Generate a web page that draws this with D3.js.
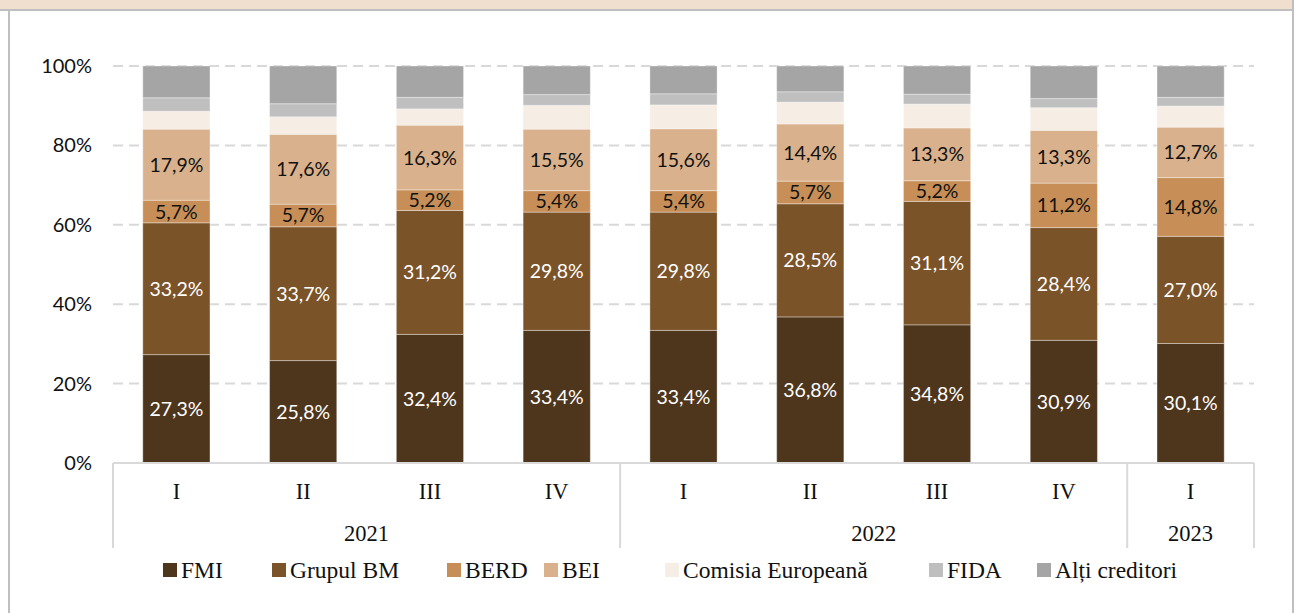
<!DOCTYPE html>
<html>
<head>
<meta charset="utf-8">
<script src="https://cdn.jsdelivr.net/npm/d3@7"></script>
<style>
  body { margin: 0; background: #fff; }
  .tick-label { font-family: Lato, "Open Sans", sans-serif; font-size: 20px; fill: #111; }
  .cat-label { font-family: "Liberation Serif", serif; font-size: 22.5px; fill: #111; }
  .legend-label { font-family: "Liberation Serif", serif; font-size: 23.5px; fill: #111; }
  .bar-label { font-family: Lato, "Open Sans", sans-serif; font-size: 19.5px; }
</style>
</head>
<body>
<div id="chart"></div>
<script>
// quarters and years on the x axis
var quarters = ["I", "II", "III", "IV", "I", "II", "III", "IV", "I"];
var years = ["2021", "2021", "2021", "2021", "2022", "2022", "2022", "2022", "2023"];
var yearGroups = ["2021", "2022", "2023"];

var seriesNames = ["FMI", "Grupul BM", "BERD", "BEI", "Comisia Europeană", "FIDA", "Alți creditori"];

// shares in % (last three)
var fmi      = [27.3, 25.8, 32.4, 33.4, 33.4, 36.8, 34.8, 30.9, 30.1];
var grupulBM = [33.2, 33.7, 31.2, 29.8, 29.8, 28.5, 31.1, 28.4, 27.0];
var berd     = [5.7, 5.7, 5.2, 5.4, 5.4, 5.7, 5.2, 11.2, 14.8];
var bei      = [17.9, 17.6, 16.3, 15.5, 15.6, 14.4, 13.3, 13.3, 12.7];
var comisia  = [4.5, 4.4, 4.1, 6.0, 6.0, 5.5, 6.0, 5.7, 5.3];
var fida     = [3.4, 3.3, 2.9, 2.7, 2.8, 2.6, 2.5, 2.3, 2.2];
var altii    = [8.0, 9.5, 7.9, 7.2, 7.0, 6.5, 7.1, 8.2, 7.9];

var yTicks = [0, 20, 40, 60, 80, 100];

var colors = ["#4e361d", "#7b5329", "#c78f57", "#d9b18c", "#f6ede4", "#bfbfbf", "#a5a5a5"];
var labelColors = ["#fff", "#fff", "#111", "#111"];

var fullWidth = 1299, fullHeight = 613;
var margin = {top: 66, left: 113, right: 45, bottom: 150};
var width = fullWidth - margin.left - margin.right,
    height = fullHeight - margin.top - margin.bottom;

var rows = quarters.map(function(q, i) {
	return {
		key: years[i] + "-" + q,
		FMI: fmi[i], "Grupul BM": grupulBM[i], BERD: berd[i], BEI: bei[i],
		"Comisia Europeană": comisia[i], FIDA: fida[i], "Alți creditori": altii[i]
	};
});

var svg = d3.select("#chart").append("svg")
	.attr("width", fullWidth)
	.attr("height", fullHeight);

// title band (cut off in the original) and outer frame
svg.append("rect").attr("x", 0).attr("y", 0).attr("width", 1294).attr("height", 9).attr("fill", "#f0dfce");
svg.append("rect").attr("x", 0).attr("y", 9).attr("width", 1294).attr("height", 2).attr("fill", "#bfbfbf");
svg.append("rect").attr("x", 8).attr("y", 11).attr("width", 2).attr("height", fullHeight).attr("fill", "#bfbfbf");
svg.append("rect").attr("x", 1292).attr("y", 0).attr("width", 2).attr("height", fullHeight).attr("fill", "#bfbfbf");

var g = svg.append("g")
	.attr("transform", "translate(" + margin.left + "," + margin.top + ")");

var x = d3.scaleBand()
	.domain(rows.map(function(d) { return d.key; }))
	.range([0, width])
	.paddingInner(0.47)
	.paddingOuter(0.235);

var y = d3.scaleLinear()
	.domain([0, 100])
	.range([height, 0]);

// gridlines
g.append("g").selectAll("line")
	.data(yTicks.filter(function(t) { return t > 0; }))
	.enter().append("line")
	.attr("x1", 0).attr("x2", width)
	.attr("y1", function(d) { return y(d); })
	.attr("y2", function(d) { return y(d); })
	.attr("stroke", "#d9d9d9")
	.attr("stroke-width", 2)
	.attr("stroke-dasharray", "10,6");

// y tick labels
g.append("g").selectAll("text")
	.data(yTicks)
	.enter().append("text")
	.attr("class", "tick-label")
	.attr("x", -21)
	.attr("y", function(d) { return y(d); })
	.attr("dy", "0.35em")
	.attr("text-anchor", "end")
	.text(function(d) { return d + "%"; });

var stack = d3.stack().keys(seriesNames);
var stacked = stack(rows);

var series = g.selectAll(".series")
	.data(stacked)
	.enter().append("g")
	.attr("class", "series")
	.attr("fill", function(d, i) { return colors[i]; });

series.selectAll("rect")
	.data(function(d) { return d; })
	.enter().append("rect")
	.attr("x", function(d) { return x(d.data.key); })
	.attr("width", x.bandwidth())
	.attr("y", function(d) { return y(d[1]); })
	.attr("height", function(d) { return y(d[0]) - y(d[1]); })
	.attr("stroke", "rgba(255,255,255,0.35)")
	.attr("stroke-width", 1);

// value labels on the four named creditors
series.filter(function(d, i) { return i < 4; })
	.selectAll("text")
	.data(function(d) { return d; })
	.enter().append("text")
	.attr("class", "bar-label")
	.attr("x", function(d) { return x(d.data.key) + x.bandwidth() / 2; })
	.attr("y", function(d) { return y((d[0] + d[1]) / 2); })
	.attr("dy", "0.36em")
	.attr("text-anchor", "middle")
	.attr("fill", function() { return labelColors[seriesNames.indexOf(d3.select(this.parentNode).datum().key)]; })
	.text(function(d) { return (d[1] - d[0]).toFixed(1).replace(".", ",") + "%"; });

// x axis line
g.append("line")
	.attr("x1", 0).attr("x2", width)
	.attr("y1", height).attr("y2", height)
	.attr("stroke", "#d9d9d9").attr("stroke-width", 2);

// group separators
var step = x.step();
var bounds = [0];
yearGroups.forEach(function(yr) {
	var n = years.filter(function(v) { return v === yr; }).length;
	bounds.push(bounds[bounds.length - 1] + n);
});
g.append("g").selectAll("line")
	.data(bounds)
	.enter().append("line")
	.attr("x1", function(d) { return d * step; })
	.attr("x2", function(d) { return d * step; })
	.attr("y1", height).attr("y2", height + 85)
	.attr("stroke", "#d9d9d9").attr("stroke-width", 2);

// quarter labels
g.append("g").selectAll("text")
	.data(rows)
	.enter().append("text")
	.attr("class", "cat-label")
	.attr("x", function(d) { return x(d.key) + x.bandwidth() / 2; })
	.attr("y", height + 28)
	.attr("dy", "0.35em")
	.attr("text-anchor", "middle")
	.text(function(d, i) { return quarters[i]; });

// year labels
g.append("g").selectAll("text")
	.data(yearGroups)
	.enter().append("text")
	.attr("class", "cat-label")
	.attr("x", function(d, i) { return (bounds[i] + bounds[i + 1]) / 2 * step; })
	.attr("y", height + 70)
	.attr("dy", "0.35em")
	.attr("text-anchor", "middle")
	.text(function(d) { return d; });

// legend
var legendX = [163, 272, 447, 544, 665, 929, 1037];
var legend = svg.append("g").selectAll("g")
	.data(seriesNames)
	.enter().append("g")
	.attr("transform", function(d, i) { return "translate(" + legendX[i] + ",570)"; });

legend.append("rect")
	.attr("x", 0).attr("y", -7)
	.attr("width", 14).attr("height", 14)
	.attr("fill", function(d, i) { return colors[i]; });

legend.append("text")
	.attr("class", "legend-label")
	.attr("x", 18)
	.attr("dy", "0.35em")
	.text(function(d) { return d; });
</script>
</body>
</html>
